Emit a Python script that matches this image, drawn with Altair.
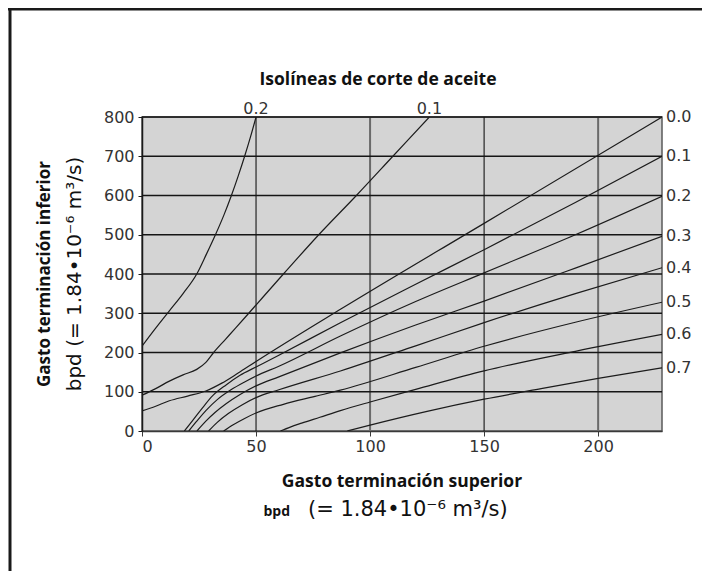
import altair as alt
import pandas as pd

# ---------------- data ----------------
x_ticks = [0, 50, 100, 150, 200]
y_ticks = [0, 100, 200, 300, 400, 500, 600, 700, 800]
x_max = 228
y_max = 800

# curves ending on the right edge (labels 0.0 ... 0.7)
c00_x = [0, 6, 12, 20, 28, 35, 42, 50, 87, 150, 228]
c00_y = [51, 63, 77, 89, 102, 122, 147, 177, 310, 529, 800]
c01_x = [18.6, 22, 26, 31, 37, 43, 50, 60, 87, 120, 150, 190, 228]
c01_y = [0, 25, 55, 90, 118, 142, 163, 193, 276, 374, 462, 582, 700]
c02_x = [20.5, 24, 28, 33, 39, 45, 50, 60, 87, 120, 150, 190, 228]
c02_y = [0, 25, 52, 80, 105, 125, 140, 165, 242, 330, 403, 500, 598]
c03_x = [24.1, 28, 32, 37, 43, 50, 60, 87, 120, 150, 190, 228]
c03_y = [0, 25, 47, 70, 93, 115, 138, 199, 270, 331, 415, 496]
c04_x = [29.2, 33, 38, 44, 50, 60, 87, 120, 150, 190, 228]
c04_y = [0, 22, 45, 67, 85, 105, 153, 217, 276, 350, 416]
c05_x = [35.8, 40, 45, 50, 62, 75, 87, 120, 150, 190, 228]
c05_y = [0, 16, 32, 46, 68, 87, 104, 162, 216, 277, 328]
c06_x = [60.7, 65, 70, 78, 87, 100, 120, 150, 190, 228]
c06_y = [0, 10, 20, 35, 52, 74, 106, 153, 203, 246]
c07_x = [90, 100, 125, 150, 175, 200, 228]
c07_y = [0, 15, 50, 81, 108, 134, 161]
right_labels = ["0.0", "0.1", "0.2", "0.3", "0.4", "0.5", "0.6", "0.7"]

# curves ending on the top edge (labels 0.2 and 0.1)
t02_x = [0, 6, 12, 18, 24, 28.2, 32.2, 35.9, 39.2, 42.2, 45, 47.6, 50]
t02_y = [216, 262, 306, 350, 400, 450, 500, 550, 600, 650, 700, 750, 800]
t01_x = [0, 6, 12, 18, 24, 28, 31.4, 36.5, 41, 46.8, 62, 77.5, 94, 110, 126]
t01_y = [91, 108, 127, 143, 157, 175, 200, 233, 262, 300, 400, 500, 600, 700, 800]
top_labels = ["0.2", "0.1"]

grid_y = [100, 200, 300, 400, 500, 600, 700, 800]
grid_x_dark = [50, 150]
grid_x_grey = [100, 200]

title_text = "Isolíneas de corte de aceite"
y_title_1 = "Gasto terminación inferior"
y_title_2 = "bpd (= 1.84•10⁻⁶ m³/s)"
x_title_1 = "Gasto terminación superior"
x_title_2a = "bpd"
x_title_2b = "(= 1.84•10⁻⁶ m³/s)"

# ---------------- tables ----------------
right_curves = [c00_x, c01_x, c02_x, c03_x, c04_x, c05_x, c06_x, c07_x]
right_vals = [c00_y, c01_y, c02_y, c03_y, c04_y, c05_y, c06_y, c07_y]
rows = []
for name, xs, ys in zip(right_labels, right_curves, right_vals):
    for a, b in zip(xs, ys):
        rows.append({"curve": "r" + name, "x": a, "y": b})
for name, xs, ys in zip(top_labels, [t02_x, t01_x], [t02_y, t01_y]):
    for a, b in zip(xs, ys):
        rows.append({"curve": "t" + name, "x": a, "y": b})
df = pd.DataFrame(rows)

right_df = pd.DataFrame({
    "x": [xs[-1] for xs in right_curves],
    "y": [ys[-1] for ys in right_vals],
    "t": right_labels,
})
top_df = pd.DataFrame({
    "x": [t02_x[-1], t01_x[-1]],
    "y": [t02_y[-1], t01_y[-1]],
    "t": top_labels,
})

LINE = "#1c1c1c"
LABEL = "#333333"
NUMFONT = "DejaVu Sans"
BOLDFONT = "Open Sans"

xs_ = alt.Scale(domain=[0, x_max], nice=False, zero=False)
ys_ = alt.Scale(domain=[0, y_max], nice=False, zero=False)
x_axis = alt.Axis(
    values=x_ticks, title=None, grid=False, tickSize=5, labelPadding=2,
    labelFont=NUMFONT, labelFontSize=16, labelColor=LABEL,
    domainColor="#3a3a3a", domainWidth=1.5, tickColor="#3a3a3a")
y_axis = alt.Axis(
    values=y_ticks, title=None, grid=False, tickSize=4, labelPadding=4,
    labelFont=NUMFONT, labelFontSize=16, labelColor=LABEL,
    domainColor="#1a1a1a", domainWidth=1.5, tickColor="#1a1a1a")
X = alt.X("x:Q", scale=xs_, axis=x_axis)
Y = alt.Y("y:Q", scale=ys_, axis=y_axis)

lines = alt.Chart(df).mark_line(
    color=LINE, strokeWidth=1.2, interpolate="monotone", clip=True
).encode(x=X, y=Y, detail="curve:N")

hgrid = alt.Chart(pd.DataFrame({"y": grid_y})).mark_rule(
    color="#151515", strokeWidth=1.3).encode(y=Y)
vgrid_dark = alt.Chart(pd.DataFrame({"x": grid_x_dark})).mark_rule(
    color="#151515", strokeWidth=1.1).encode(x=X)
vgrid_grey = alt.Chart(pd.DataFrame({"x": grid_x_grey})).mark_rule(
    color="#6a6a6a", strokeWidth=2).encode(x=X)

rlab = alt.Chart(right_df).mark_text(
    align="left", baseline="middle", dx=4, font=NUMFONT, fontSize=16, color=LABEL
).encode(x=X, y=Y, text="t:N")
tlab = alt.Chart(top_df).mark_text(
    align="center", baseline="alphabetic", dy=-3, font=NUMFONT, fontSize=16, color=LABEL
).encode(x=X, y=Y, text="t:N")


def label(text, x, y, **kw):
    return alt.Chart(pd.DataFrame({"t": [text]})).mark_text(**kw).encode(
        text="t:N", x=alt.value(x), y=alt.value(y)
    )


title = label(title_text, 236, -37, font=BOLDFONT, fontWeight="bold", fontSize=17.5,
              align="center", baseline="middle", color="#111")
yt1 = label(y_title_1, -97, 157, font=BOLDFONT, fontWeight="bold", fontSize=17,
            align="center", baseline="middle", angle=270, color="#111")
yt2 = label(y_title_2, -67, 157, font=NUMFONT, fontSize=20,
            align="center", baseline="middle", angle=270, color="#111")
xt1 = label(x_title_1, 260, 365, font=BOLDFONT, fontWeight="bold", fontSize=17.5,
            align="center", baseline="middle", color="#111")
xt2a = label(x_title_2a, 148, 399, font=BOLDFONT, fontWeight="bold", fontSize=14,
             align="right", baseline="alphabetic", color="#111")
xt2b = label(x_title_2b, 166, 399, font=NUMFONT, fontSize=21,
             align="left", baseline="alphabetic", color="#111")

one = pd.DataFrame({"k": [0]})
frame_left = alt.Chart(one).mark_rule(color="#1a1a1a", strokeWidth=3).encode(
    x=alt.value(-132), y=alt.value(-109), y2=alt.value(460))
frame_top = alt.Chart(one).mark_rule(color="#1a1a1a", strokeWidth=3).encode(
    x=alt.value(-134), x2=alt.value(580), y=alt.value(-108))

chart = alt.layer(
    vgrid_grey, vgrid_dark, hgrid, lines, rlab, tlab,
    title, yt1, yt2, xt1, xt2a, xt2b, frame_left, frame_top,
).properties(
    width=520, height=314,
    autosize=alt.AutoSizeParams(type="none"),
    padding={"left": 134, "top": 109, "right": 40, "bottom": 140},
    background="white",
).configure_view(fill="#d4d4d4", stroke="#5a5a5a", strokeWidth=1.5)

chart.save("out.html", embed_options={"renderer": "svg", "actions": False})
